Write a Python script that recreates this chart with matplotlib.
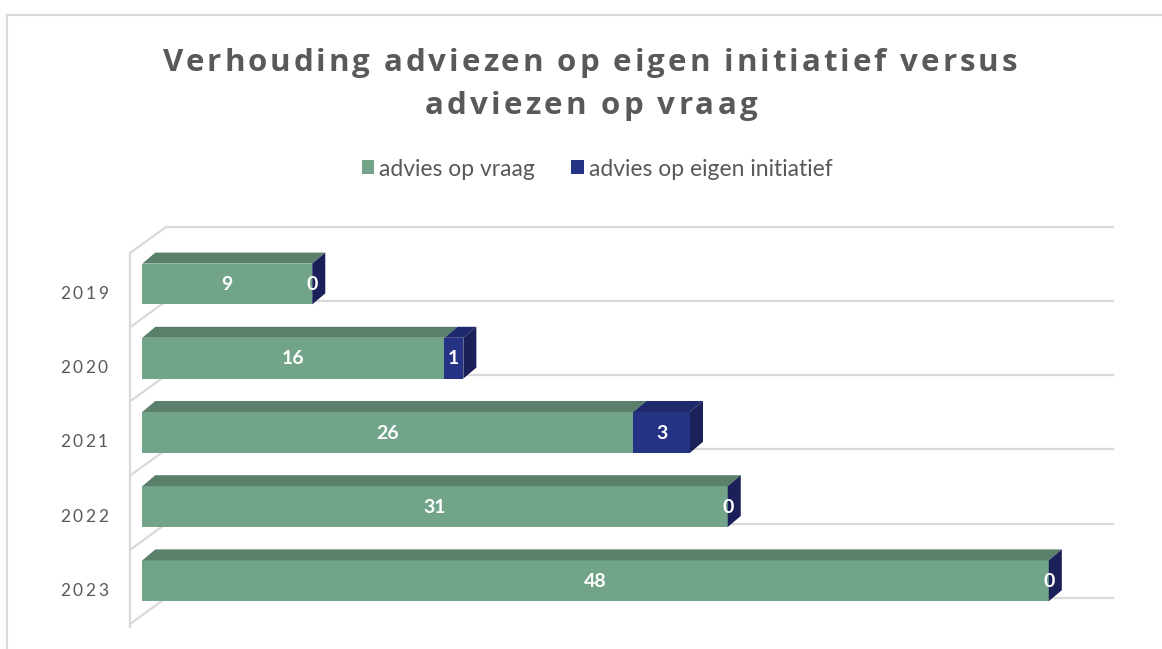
import matplotlib
matplotlib.use("Agg")
import matplotlib.pyplot as plt
import numpy as np
from matplotlib.patches import Polygon
from matplotlib.font_manager import FontProperties
from matplotlib.transforms import offset_copy

# Data
years = ["2019", "2020", "2021", "2022", "2023"]
op_vraag = [9, 16, 26, 31, 48]
eigen_initiatief = [0, 1, 3, 0, 0]
series_names = ["advies op vraag", "advies op eigen initiatief"]
title_lines = ["Verhouding adviezen op eigen initiatief versus", "adviezen op vraag"]

# Colors
green_front = "#72A48A"
green_top = "#5A7F6B"
navy_front = "#253385"
navy_top = "#1E2A6C"
navy_side = "#1B2059"
grid_col = "#D9D9D9"
text_col = "#595959"

W, H = 1162, 649
fig = plt.figure(figsize=(W / 100, H / 100), dpi=100)
renderer = fig.canvas.get_renderer()


def text_w(s, prop):
    return renderer.get_text_width_height_descent(s, prop, ismath=False)[0]


def spaced_text(x, y, s, prop, target_w, transform, align="center", va="baseline", color=text_col):
    # draw text char by char so the letter spacing matches the reference
    n = len(s)
    plain = text_w(s, prop)
    spacing = (target_w - plain) / (n - 1)
    start = {"center": -target_w / 2, "right": -target_w, "left": 0}[align]
    for i, ch in enumerate(s):
        if ch == " ":
            continue
        pos = 0.0 if i == 0 else text_w(s[:i + 1], prop) - text_w(ch, prop)
        tr = offset_copy(transform, fig=fig, x=start + pos + spacing * i, y=0, units="dots")
        fig.text(x, y, ch, transform=tr, fontproperties=prop, ha="left", va=va, color=color)


# frame of the chart area
fig.add_artist(plt.Line2D([7 / W, 1], [1 - 15 / H, 1 - 15 / H], color=grid_col, lw=1.5))
fig.add_artist(plt.Line2D([7 / W, 7 / W], [0, 1 - 15 / H], color=grid_col, lw=1.5))

# Axes (pseudo 3D drawn on a 2D axes)
ax = fig.add_axes([130 / W, 22 / H, 983 / W, 400 / H])
ax.set_xlim(-0.65, 51.4)
ax.set_ylim(4.623, -0.768)
ax.axis("off")

rows = np.arange(len(years))
bar_h = 0.55
bdx, bdy = 0.69, 0.148        # bar depth
wall_x, wdx, wdy = -0.635, 1.9, 0.35   # side wall depth
front_off = 0.08

# walls / gridlines
for k in range(len(years) + 1):
    yb = k - 0.5 + front_off - wdy
    ax.plot([wall_x + wdx, 51.4], [yb, yb], color=grid_col, lw=1.6, zorder=1, clip_on=False)
    ax.plot([wall_x, wall_x + wdx], [yb + wdy, yb], color=grid_col, lw=1.6, zorder=1, clip_on=False)
ax.plot([wall_x, wall_x], [-0.5 + front_off, len(years) - 0.5 + front_off + 0.04],
        color=grid_col, lw=1.6, zorder=1, clip_on=False)

# bars (front faces)
b1 = ax.barh(rows, op_vraag, height=bar_h, color=green_front, zorder=3)
b2 = ax.barh(rows, eigen_initiatief, left=op_vraag, height=bar_h, color=navy_front, zorder=3)

# top and side faces
for r, a, b in zip(rows, op_vraag, eigen_initiatief):
    top = r - bar_h / 2
    for x0, x1, col in [(0, a, green_top), (a, a + b, navy_top)]:
        if x1 > x0:
            ax.add_patch(Polygon([(x0, top), (x1, top), (x1 + bdx, top - bdy), (x0 + bdx, top - bdy)],
                                 closed=True, facecolor=col, edgecolor="none", zorder=3))
    xe = a + b
    ax.add_patch(Polygon([(xe, top), (xe + bdx, top - bdy), (xe + bdx, top + bar_h - bdy), (xe, top + bar_h)],
                         closed=True, facecolor=navy_side, edgecolor="none", zorder=3))

# data labels
lab_prop = FontProperties(family=["Lato", "DejaVu Sans"], weight="bold", size=14)
for r, a, b in zip(rows, op_vraag, eigen_initiatief):
    ax.text(a / 2, r + 0.01, str(a), ha="center", va="center", color="white", fontproperties=lab_prop, zorder=5)
    ax.text(a + b / 2, r + 0.01, str(b), ha="center", va="center", color="white", fontproperties=lab_prop, zorder=5)

# year labels (letter spaced)
year_prop = FontProperties(family=["Lato", "DejaVu Sans"], size=12.5)
for r, yr in zip(rows, years):
    spaced_text(-1.815, r + 0.135, yr, year_prop, 48, ax.transData, align="right", va="center")

# title
title_prop = FontProperties(family=["Open Sans", "DejaVu Sans"], weight="bold", size=22.5)
spaced_text(590 / W, 1 - 71 / H, title_lines[0], title_prop, 854, fig.transFigure)
spaced_text(591 / W, 1 - 114 / H, title_lines[1], title_prop, 332, fig.transFigure)

# legend
fig.legend([b1, b2], series_names, loc="center", bbox_to_anchor=(597 / W, 1 - 169 / H), ncol=2,
           frameon=False, prop=FontProperties(family=["Lato", "DejaVu Sans"], size=16.5),
           labelcolor=text_col, handlelength=0.55, handleheight=0.55, handletextpad=0.2,
           columnspacing=1.6, borderpad=0)

fig.savefig("out.png", dpi=100, facecolor="white")
